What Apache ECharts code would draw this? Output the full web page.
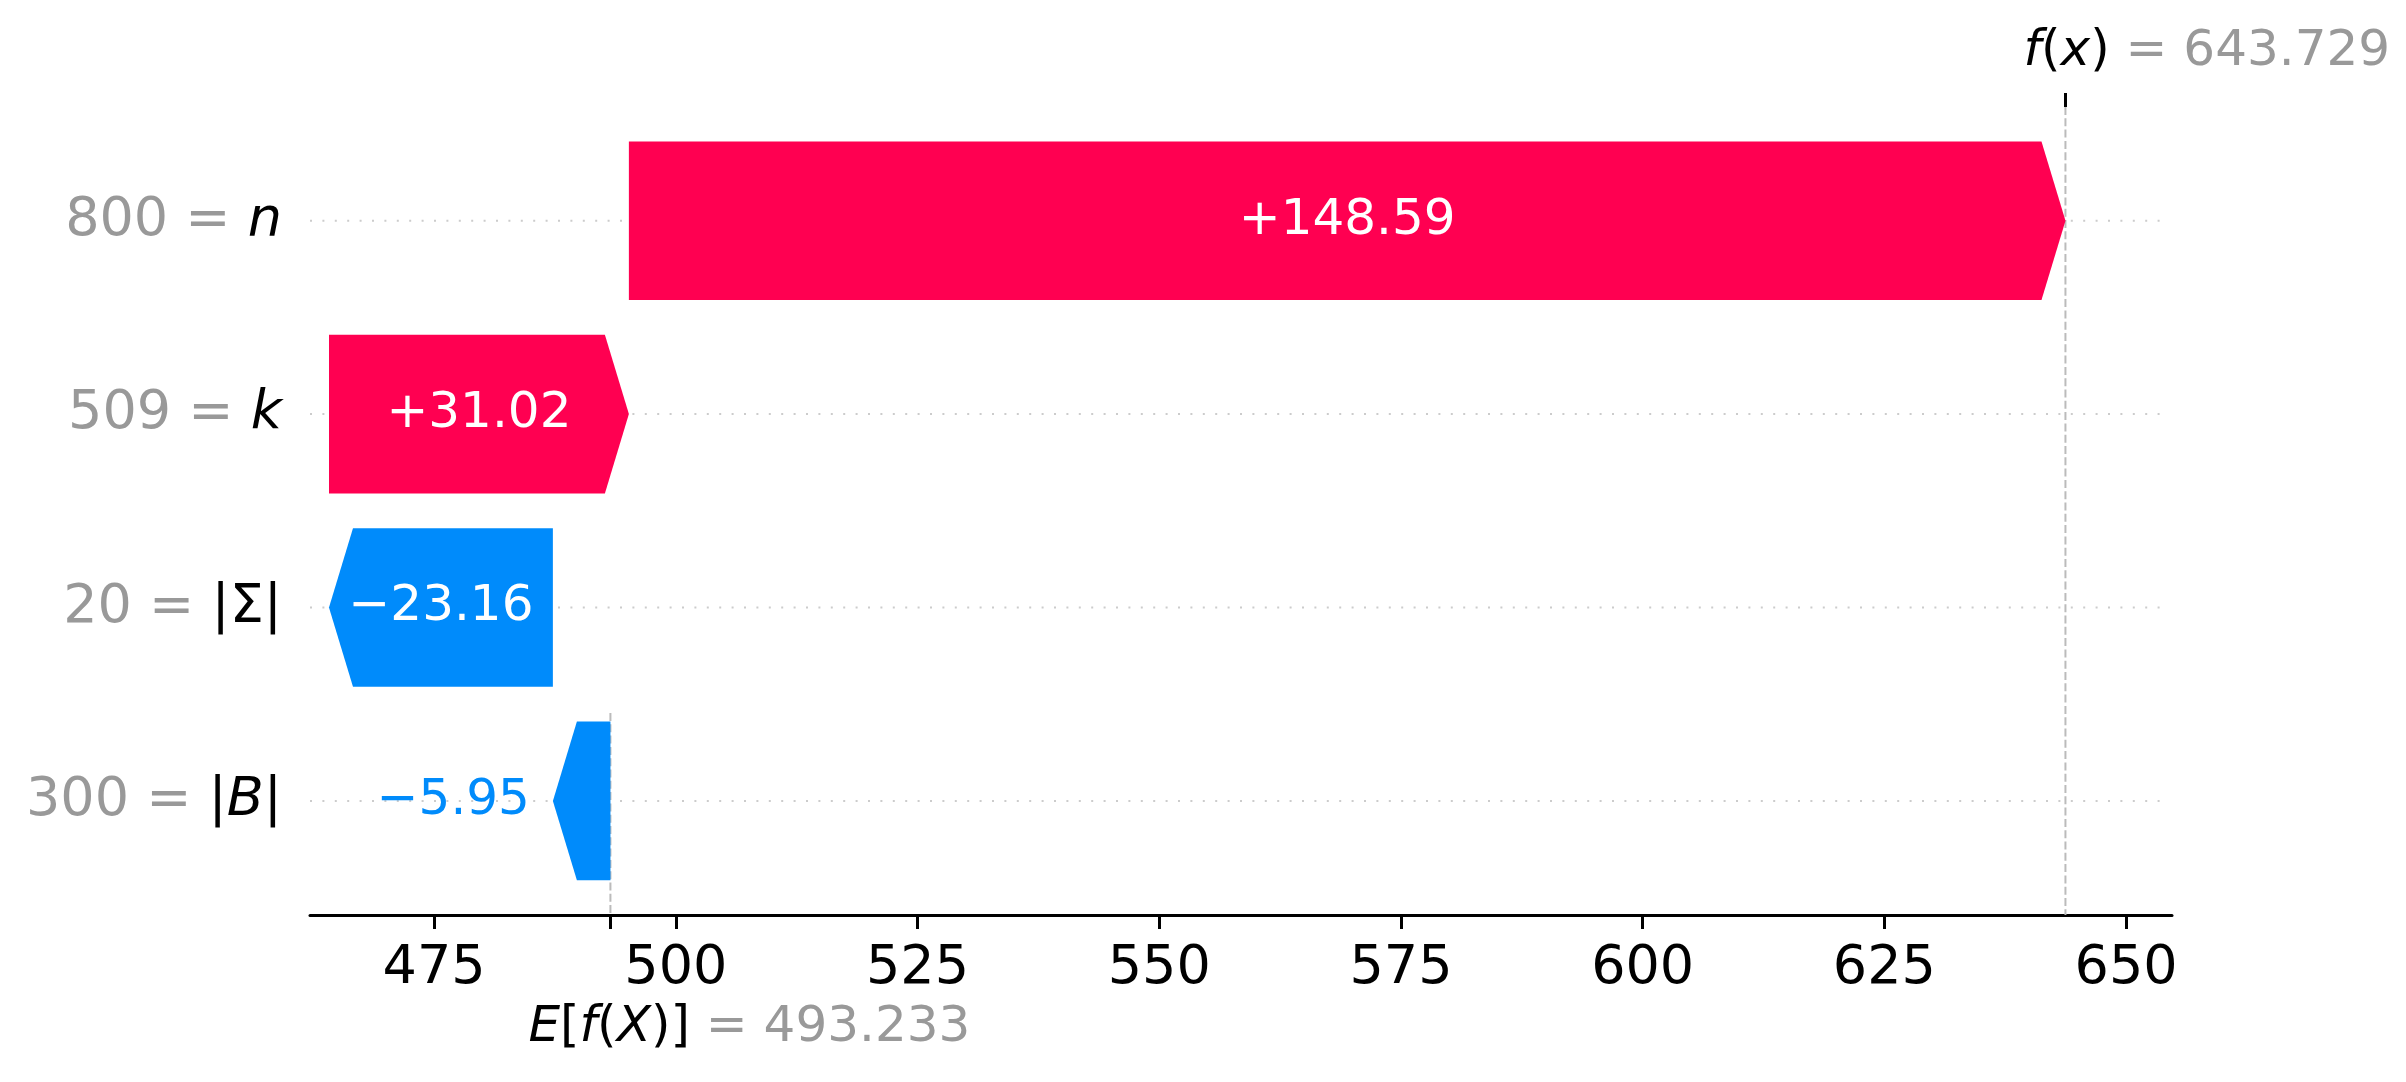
<!DOCTYPE html>
<html>
<head>
<meta charset="utf-8">
<script src="https://cdn.jsdelivr.net/npm/echarts@6/dist/echarts.min.js"></script>
<style>
  html, body { margin: 0; padding: 0; background: #fff; }
  #main { width: 2406px; height: 1082px; }
</style>
</head>
<body>
<div id="main"></div>
<script>
// rows from top to bottom
var featureValues = ['800', '509', '20', '300'];
var featureNames = ['n', 'k', '|Σ|', '|B|'];
var shapValues = [148.59, 31.02, -23.16, -5.95];
var valueLabels = ['+148.59', '+31.02', '\u221223.16', '\u22125.95'];
var baseValue = 493.233;
var fxValue = 643.729;
var xTicks = [475, 500, 525, 550, 575, 600, 625, 650];
var rowIndex = [0, 1, 2, 3];

var xMin = 462.16, xMax = 654.75;
var yMin = -0.588, yMax = 3.59;
var RED = '#ff0051', BLUE = '#008bfb', GRAY = '#999999';
var FONT = 'DejaVu Sans';

// bars are stacked from the bottom row upwards, starting at the base value
var bars = [];
var acc = baseValue;
for (var i = shapValues.length - 1; i >= 0; i--) {
  bars.unshift([acc, acc + shapValues[i], i, shapValues[i]]);
  acc += shapValues[i];
}

// latin letters italic, the rest upright (like mathtext)
function mathText(s) {
  var out = '';
  for (var c of s) {
    out += /[A-Za-z]/.test(c) ? '{i|' + c + '}' : '{r|' + c + '}';
  }
  return out;
}
function richStyles(size) {
  return {
    i: { color: '#000', fill: '#000', fontStyle: 'italic', fontSize: size, fontFamily: FONT },
    r: { color: '#000', fill: '#000', fontSize: size, fontFamily: FONT },
    g: { color: GRAY, fill: GRAY, fontSize: size, fontFamily: FONT }
  };
}

var option = {
  animation: false,
  grid: { left: 310, right: 234, top: 107, bottom: 167 },
  xAxis: [
    {
      type: 'value', min: xMin, max: xMax, position: 'bottom',
      axisLine: { show: true, onZero: false, lineStyle: { color: '#000', width: 3 } },
      axisTick: { show: true, length: 14, lineStyle: { color: '#000', width: 3 },
        customValues: xTicks.concat([baseValue]) },
      axisLabel: { customValues: xTicks, margin: 27, color: '#000', fontSize: 54, fontFamily: FONT },
      splitLine: { show: false }
    },
    {
      type: 'value', min: xMin, max: xMax, position: 'top',
      axisLine: { show: false, onZero: false },
      axisTick: { show: true, length: 14, lineStyle: { color: '#000', width: 3 },
        customValues: [fxValue] },
      axisLabel: { show: false },
      splitLine: { show: false }
    }
  ],
  yAxis: {
    type: 'value', min: yMin, max: yMax, inverse: true,
    axisLine: { show: false, onZero: false },
    axisTick: { show: false },
    splitLine: { show: false },
    axisLabel: {
      customValues: rowIndex, margin: 28,
      formatter: function (v) {
        var i = Math.round(v);
        return '{g|' + featureValues[i] + ' = }' + mathText(featureNames[i]);
      },
      rich: richStyles(54)
    }
  },
  series: [
    {
      // dotted row guides
      type: 'custom', z: 0,
      data: rowIndex.map(function (r) { return [r]; }),
      renderItem: function (params, api) {
        var a = api.coord([xMin, api.value(0)]);
        var b = api.coord([xMax, api.value(0)]);
        return { type: 'line', shape: { x1: a[0], y1: a[1], x2: b[0] - 9, y2: b[1] },
          style: { stroke: '#cccccc', lineWidth: 2, lineDash: [2, 10.4] } };
      }
    },
    {
      // dashed lines for f(x) and E[f(X)]
      type: 'custom', z: 1,
      data: [[fxValue, yMin, yMax], [baseValue, yMax - (yMax - yMin) / 4, yMax]],
      renderItem: function (params, api) {
        var a = api.coord([api.value(0), api.value(1)]);
        var b = api.coord([api.value(0), api.value(2)]);
        return { type: 'line', shape: { x1: a[0], y1: a[1], x2: b[0], y2: b[1] },
          style: { stroke: '#bbbbbb', lineWidth: 2, lineDash: [8, 3.3] } };
      }
    },
    {
      // waterfall arrows
      type: 'custom', z: 2,
      encode: { x: [0, 1], y: 2 },
      data: bars,
      renderItem: function (params, api) {
        var row = api.value(2);
        var p0 = api.coord([api.value(0), row]);
        var p1 = api.coord([api.value(1), row]);
        var h = api.size([0, 0.82])[1];
        var cy = p0[1], top = cy - h / 2, bot = cy + h / 2;
        var dir = p1[0] > p0[0] ? 1 : -1;
        var len = Math.abs(p1[0] - p0[0]);
        var head = Math.min(24, len);
        var neck = p1[0] - dir * head;
        var color = dir > 0 ? RED : BLUE;
        var children = [{
          type: 'polygon',
          shape: { points: [[p0[0], top], [neck, top], [p1[0], cy], [neck, bot], [p0[0], bot]] },
          style: { fill: color }
        }];
        var txt = valueLabels[row];
        if (len > 150) {
          children.push({ type: 'text', x: (p0[0] + p1[0]) / 2, y: cy,
            style: { text: txt, fill: '#fff', fontSize: 50, fontFamily: FONT, align: 'center', verticalAlign: 'middle' } });
        } else {
          children.push({ type: 'text', x: p1[0] + dir * 23, y: cy,
            style: { text: txt, fill: color, fontSize: 50, fontFamily: FONT,
              align: dir > 0 ? 'left' : 'right', verticalAlign: 'middle' } });
        }
        return { type: 'group', children: children };
      }
    },
    {
      // f(x) and E[f(X)] annotations
      type: 'custom', z: 3,
      data: [[fxValue, 0], [baseValue, 1]],
      renderItem: function (params, api) {
        var isBase = api.value(1) === 1;
        var v = api.value(0);
        var p = api.coord([v, isBase ? yMax : yMin]);
        var math = isBase ? 'E[f(X)]' : 'f(x)';
        var half = isBase ? 82 : 42;
        var label = isBase ? baseValue.toFixed(3) : fxValue.toFixed(3);
        return {
          type: 'text',
          x: p[0] - half,
          y: isBase ? p[1] + 113 : p[1] - 55,
          style: {
            text: mathText(math) + '{g| = ' + label + '}',
            rich: richStyles(50),
            fontSize: 50, fontFamily: FONT,
            align: 'left', verticalAlign: 'middle'
          }
        };
      }
    }
  ]
};

var chart = echarts.init(document.getElementById('main'));
chart.setOption(option);
</script>
</body>
</html>
